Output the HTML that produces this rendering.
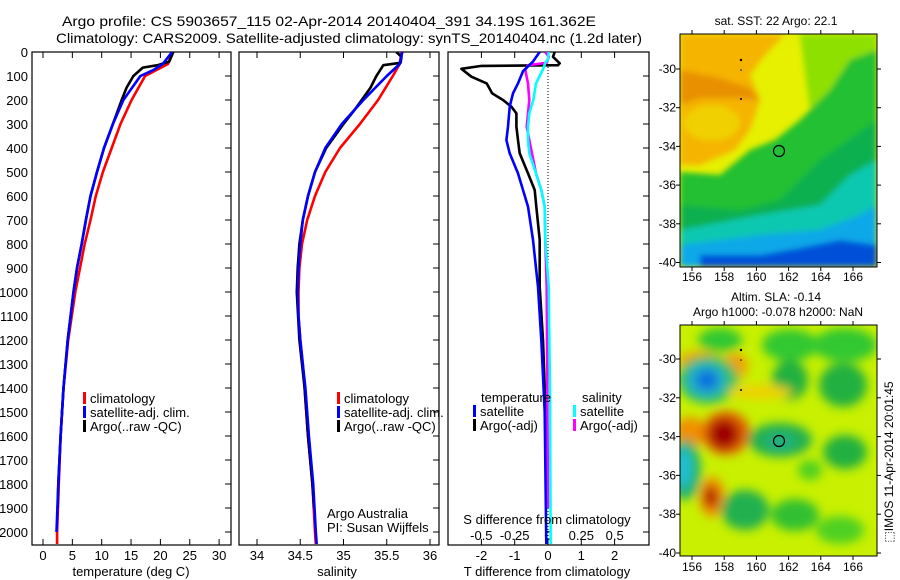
<!DOCTYPE html>
<html><head><meta charset="utf-8"><style>
html,body{margin:0;padding:0;background:#fff;}
svg{display:block;font-family:"Liberation Sans",sans-serif;}
text{fill:#000;}
</style></head><body>
<svg id="fig" width="900" height="580" viewBox="0 0 900 580" xmlns="http://www.w3.org/2000/svg">
<defs>
<filter id="blur6" x="-20%" y="-20%" width="140%" height="140%"><feGaussianBlur stdDeviation="5"/></filter>
<filter id="blur3" x="-20%" y="-20%" width="140%" height="140%"><feGaussianBlur stdDeviation="3"/></filter>
<clipPath id="clipSST"><rect x="680" y="34" width="197" height="233"/></clipPath>
<clipPath id="clipSLA"><rect x="680" y="325" width="197" height="231"/></clipPath>
</defs>
<text x="62" y="26" font-size="14" textLength="534" lengthAdjust="spacingAndGlyphs">Argo profile: CS 5903657_115 02-Apr-2014 20140404_391 34.19S 161.362E</text>
<text x="56" y="43" font-size="14" textLength="586" lengthAdjust="spacingAndGlyphs">Climatology: CARS2009. Satellite-adjusted climatology: synTS_20140404.nc (1.2d later)</text>

<!-- SST map -->
<g clip-path="url(#clipSST)">
<rect x="680" y="34" width="197" height="233" fill="#e6f000"/>
<g filter="url(#blur3)">
<polygon fill="#f5b400" points="680,34 785,34 765,55 750,75 760,100 750,130 735,150 700,165 680,165"/>
<polygon fill="#e89000" points="680,70 720,78 750,88 760,100 735,98 700,98 680,105"/>
<ellipse cx="712" cy="123" rx="28" ry="18" fill="#f0d000"/>
<polygon fill="#8ee000" points="800,34 877,34 877,90 830,110 810,110"/>
<polygon fill="#22c030" points="680,172 720,175 750,150 775,140 800,120 830,90 850,60 877,50 877,267 680,267"/>
<polygon fill="#10b050" points="680,205 740,210 780,200 820,160 877,120 877,267 680,267"/>
<polygon fill="#10c8b0" points="680,230 760,215 820,205 850,175 877,160 877,267 680,267"/>
<polygon fill="#10a8e8" points="680,245 760,235 820,230 860,215 877,205 877,267 680,267"/>
<polygon fill="#0050d8" points="700,255 760,255 800,248 840,240 877,245 877,267 700,267"/>
</g>
<circle cx="779" cy="151" r="5.5" fill="none" stroke="#000" stroke-width="1.2"/>
<circle cx="741" cy="60" r="1.2" fill="#000"/><circle cx="741" cy="70" r="0.8" fill="#000"/><circle cx="741" cy="99" r="1" fill="#000"/>
</g>
<rect x="680" y="34" width="197" height="233" fill="none" stroke="#000"/>
<text x="776" y="25" font-size="12" text-anchor="middle">sat. SST: 22 Argo: 22.1</text>

<!-- SLA map -->
<g clip-path="url(#clipSLA)">
<rect x="680" y="325" width="197" height="231" fill="#c8f000"/>
<g filter="url(#blur6)">
<ellipse cx="720" cy="340" rx="22" ry="12" fill="#30c830"/>
<ellipse cx="790" cy="345" rx="28" ry="16" fill="#30c830"/>
<ellipse cx="845" cy="345" rx="32" ry="17" fill="#30c830"/>
<ellipse cx="790" cy="380" rx="18" ry="20" fill="#20b040"/>
<ellipse cx="843" cy="385" rx="24" ry="22" fill="#20b040"/>
<ellipse cx="700" cy="362" rx="22" ry="11" fill="#f0a000"/>
<ellipse cx="735" cy="366" rx="13" ry="13" fill="#f0a000"/>
<ellipse cx="708" cy="380" rx="30" ry="24" fill="#30c060"/>
<ellipse cx="706" cy="380" rx="20" ry="17" fill="#20b0c8"/>
<ellipse cx="707" cy="380" rx="11" ry="10" fill="#1070e0"/>
<ellipse cx="760" cy="392" rx="32" ry="7" fill="#f0d000"/>
<ellipse cx="690" cy="432" rx="16" ry="15" fill="#f09000"/>
<ellipse cx="726" cy="433" rx="24" ry="22" fill="#e06000"/>
<ellipse cx="724" cy="434" rx="15" ry="15" fill="#a00000"/>
<ellipse cx="780" cy="440" rx="32" ry="17" fill="#20b050"/>
<ellipse cx="780" cy="442" rx="15" ry="9" fill="#20b080"/>
<ellipse cx="845" cy="452" rx="22" ry="17" fill="#20b040"/>
<ellipse cx="685" cy="470" rx="16" ry="30" fill="#20b070"/>
<ellipse cx="683" cy="468" rx="9" ry="20" fill="#20c0d0"/>
<ellipse cx="712" cy="497" rx="13" ry="20" fill="#f09000"/>
<ellipse cx="711" cy="497" rx="7" ry="11" fill="#b01800"/>
<ellipse cx="745" cy="510" rx="24" ry="20" fill="#20b050"/>
<ellipse cx="795" cy="515" rx="24" ry="16" fill="#30c030"/>
<ellipse cx="840" cy="530" rx="24" ry="14" fill="#50d020"/>
<ellipse cx="810" cy="470" rx="12" ry="10" fill="#50d020"/>
</g>
<circle cx="779" cy="441" r="5.5" fill="none" stroke="#000" stroke-width="1.2"/>
<circle cx="741" cy="350" r="1.2" fill="#000"/><circle cx="741" cy="360" r="0.8" fill="#000"/><circle cx="741" cy="390" r="1" fill="#000"/>
</g>
<rect x="680" y="325" width="197" height="231" fill="none" stroke="#000"/>
<text x="776" y="301" font-size="12" text-anchor="middle">Altim. SLA: -0.14</text>
<text x="778" y="316" font-size="12" text-anchor="middle">Argo h1000: -0.078 h2000: NaN</text>
<text transform="translate(893,462) rotate(-90)" font-size="12" text-anchor="middle">⬚IMOS 11-Apr-2014 20:01:45</text>
<g id="axes"></g>
</svg>
<script>
// ---- data ----
const depthRed  = [0,50,100,200,300,400,500,600,700,800,900,1000,1200,1400,1600,1800,2000,2050];
const tempClim  = [22,21.3,17.4,15.1,13.2,11.7,10.2,9.0,8.1,7.1,6.3,5.5,4.3,3.5,3.0,2.7,2.4,2.4];
const depthBlue = [0,50,75,100,200,300,400,500,600,700,800,900,1000,1200,1400,1600,1800,2000];
const tempSat   = [22,20.4,18.8,16.6,13.7,11.9,10.4,9.2,8.1,7.3,6.6,5.8,5.2,4.2,3.5,3.0,2.6,2.3];
const depthArgo = [0,40,55,65,100,150,200,300,400,500,600,700,800,900,1000,1200,1400,1600,1800,1900];
const tempArgo  = [22.2,21.5,19.5,17.0,15.4,14.2,13.4,11.9,10.4,9.2,8.1,7.3,6.6,5.8,5.2,4.2,3.5,3.0,2.6,2.5];

const salDepth  = [0,50,100,200,300,400,500,600,700,800,900,1000,1100,1200,1300,1400,1600,1800,2000,2050];
const salClim   = [35.67,35.65,35.57,35.40,35.19,34.96,34.79,34.67,34.58,34.52,34.49,34.48,34.48,34.50,34.53,34.55,34.59,34.64,34.67,34.68];
const salSat    = [35.68,35.65,35.50,35.23,34.98,34.79,34.67,34.59,34.53,34.50,34.48,34.47,34.48,34.50,34.53,34.56,34.60,34.65,34.68,34.69];
const salDepthArgo = [0,20,45,55,100,150,200,250,300,400,500,600,700,800,900,1000,1200,1400,1600,1800,1900];
const salArgo   = [35.61,35.67,35.66,35.46,35.38,35.31,35.21,35.11,35.00,34.80,34.67,34.59,34.53,34.49,34.47,34.46,34.49,34.55,34.59,34.64,34.66];

const diffDepthArgoT = [0,20,47,55,58,70,103,131,172,200,228,256,311,367,422,506,575,644,783,978,1200,1400,1600,1900];
const tDiffArgo = [0.2,0.15,0.35,0.3,-2.0,-2.6,-2.3,-1.84,-1.68,-1.35,-1.1,-0.95,-0.95,-0.9,-0.85,-0.6,-0.4,-0.35,-0.25,-0.25,-0.15,-0.1,-0.05,-0.03];
const diffDepthSat = [0,20,40,80,131,172,228,311,367,422,506,575,644,783,978,1200,1500,2050];
const tDiffSat  = [-0.25,-0.35,-0.45,-0.75,-0.9,-1.05,-1.15,-1.2,-1.25,-1.15,-0.9,-0.75,-0.6,-0.45,-0.3,-0.2,-0.1,-0.05];
const diffDepthS = [0,30,45,75,131,200,256,311,367,422,506,575,644,783,978,1400,2050];
const sDiffSat  = [0.005,0.0,-0.02,-0.04,-0.09,-0.11,-0.14,-0.15,-0.15,-0.14,-0.09,-0.05,-0.025,-0.02,0.005,0.015,0.02];
const diffDepthSArgo = [0,20,45,55,75,131,200,256,311,367,422,506,575,644,783,978,1400,1900];
const sDiffArgo = [-0.02,0.005,-0.01,-0.15,-0.17,-0.15,-0.14,-0.15,-0.16,-0.14,-0.12,-0.09,-0.05,-0.025,-0.02,-0.01,-0.005,0.0];

const depthTicks = [0,100,200,300,400,500,600,700,800,900,1000,1100,1200,1300,1400,1500,1600,1700,1800,1900,2000];
const tempTicks = [0,5,10,15,20,25,30];
const salTicks = [34,34.5,35,35.5,36];
const salTickLabels = ["34","34.5","35","35.5","36"];
const tDiffTicks = [-2,-1,0,1,2];
const sDiffTicks = [-0.5,-0.25,0,0.25,0.5];
const sDiffTickLabels = ["-0.5","-0.25","0","0.25","0.5"];
const lonTicks = [156,158,160,162,164,166];
const latTicks = [-30,-32,-34,-36,-38,-40];

// ---- scales ----
const yD = d => 52 + d*0.24;
const xT = t => 43 + t*5.87;
const xS = s => 257 + (s-34)*86.5;
const xTd = d => 548 + d*33.3;
const xSd = d => 548 + d*133.3;
const xLon = l => 692 + (l-156)*16.1;
const yLatTop = l => 69 + (-30-l)*19.35;
const yLatBot = l => 359 + (-30-l)*19.4;

const NS = "http://www.w3.org/2000/svg";
const root = document.getElementById('axes');
function mk(tag, attrs, parent){ const e=document.createElementNS(NS,tag); for(const k in attrs) e.setAttribute(k,attrs[k]); (parent||root).appendChild(e); return e; }
function txt(x,y,s,size,anchor){ const t=mk('text',{x:x,y:y,'font-size':size,'text-anchor':anchor||'middle'}); t.textContent=s; return t; }
function stepPath(xs, ds, xf){ let p=''; for(let i=0;i<xs.length;i++){ const x=xf(xs[i]).toFixed(1), y=yD(ds[i]).toFixed(1); p += (i?'L':'M')+x+' '+y; } return p; }

function line(xs, ds, xf, color, name, clipId){
  const e = mk('path',{d:stepPath(xs,ds,xf),fill:'none',stroke:color,'stroke-width':2.6,'stroke-linejoin':'round','clip-path':'url(#'+clipId+')'});
  
  
}

const defs = document.querySelector('defs');
[['cp1',32,231],['cp2',239,439],['cp3',448,649]].forEach(c=>{ const cp=mk('clipPath',{id:c[0]},defs); mk('rect',{x:c[1],y:52,width:c[2]-c[1],height:493},cp); });

function frame(x0,x1,name){
  const r = mk('rect',{x:x0,y:52,width:x1-x0,height:493,fill:'none',stroke:'#000','stroke-width':1.2});
  
  
  depthTicks.forEach(d=>{ mk('line',{x1:x1-6,x2:x1,y1:yD(d),y2:yD(d),stroke:'#000'}); });
}
function xticks(ticks, labels, xf, ly, size){
  ticks.forEach((t,i)=>{
    const x=xf(t);
    mk('line',{x1:x,x2:x,y1:52,y2:58,stroke:'#000'});
    mk('line',{x1:x,x2:x,y1:545,y2:539,stroke:'#000'});
    const l = txt(x, ly, labels[i], size||13);
    
    
  });
}

// Panel 1
frame(32,231,'temperature-panel');
depthTicks.forEach(d=>{
  const l = txt(28, yD(d)+5, String(d), 13, 'end');
  
  
});
xticks(tempTicks, tempTicks.map(String), xT, 560);
line(tempClim, depthRed, xT, '#ff0000', 'temp-climatology-line', 'cp1');
line(tempArgo, depthArgo, xT, '#000000', 'temp-argo-line', 'cp1');
line(tempSat, depthBlue, xT, '#0000ff', 'temp-satellite-line', 'cp1');
let t1 = txt(131, 576, 'temperature (deg C)', 13);  

// Panel 2
frame(239,439,'salinity-panel');
xticks(salTicks, salTickLabels, xS, 560);
line(salClim, salDepth, xS, '#ff0000', 'sal-climatology-line', 'cp2');
line(salArgo, salDepthArgo, xS, '#000000', 'sal-argo-line', 'cp2');
line(salSat, salDepth, xS, '#0000ff', 'sal-satellite-line', 'cp2');
let t2 = txt(337, 576, 'salinity', 13);  

// Panel 3
frame(448,649,'difference-panel');
mk('line',{x1:548,x2:548,y1:52,y2:545,stroke:'#000','stroke-dasharray':'1 2'});
xticks(tDiffTicks, tDiffTicks.map(String), xTd, 560);
sDiffTicks.forEach((t,i)=>{ const l=txt(xSd(t), 540, sDiffTickLabels[i], 13);   });
line(tDiffArgo, diffDepthArgoT, xTd, '#000000', 'tdiff-argo-line', 'cp3');
line(sDiffArgo, diffDepthSArgo, xSd, '#ff00ff', 'sdiff-argo-line', 'cp3');
line(tDiffSat, diffDepthSat, xTd, '#0000ff', 'tdiff-satellite-line', 'cp3');
line(sDiffSat, diffDepthS, xSd, '#00ffff', 'sdiff-satellite-line', 'cp3');
let t3 = txt(547, 576, 'T difference from climatology', 13);  
let t4 = txt(547, 524, 'S difference from climatology', 13);  

// Legends
function legend(x, y, color, label, name){
  const g = mk('g',{});
  
  
  mk('rect',{x:x,y:y-11,width:3,height:12,fill:color},g);
  const t = mk('text',{x:x+7,y:y,'font-size':13},g); t.textContent=label;
}
legend(83,403,'#ff0000','climatology','legend-temp-climatology');
legend(83,417,'#0000ff','satellite-adj. clim.','legend-temp-satellite');
legend(83,431,'#000000','Argo(..raw -QC)','legend-temp-argo');
legend(337,403,'#ff0000','climatology','legend-sal-climatology');
legend(337,417,'#0000ff','satellite-adj. clim.','legend-sal-satellite');
legend(337,431,'#000000','Argo(..raw -QC)','legend-sal-argo');
let lh1 = txt(481,402,'temperature',13,'start');  
let lh2 = txt(582,402,'salinity',13,'start');  
legend(473,416,'#0000ff','satellite','legend-tdiff-satellite');
legend(473,430,'#000000','Argo(-adj)','legend-tdiff-argo');
legend(573,416,'#00ffff','satellite','legend-sdiff-satellite');
legend(573,430,'#ff00ff','Argo(-adj)','legend-sdiff-argo');
let c1 = txt(327,518,'Argo Australia',13,'start');  
let c2 = txt(327,532,'PI: Susan Wijffels',13,'start');  

// Map axes
function mapAxes(y0, y1, yf, lonY){
  lonTicks.forEach(l=>{
    const x=xLon(l);
    mk('line',{x1:x,x2:x,y1:y0,y2:y0-4,stroke:'#000'});
    mk('line',{x1:x,x2:x,y1:y1,y2:y1+4,stroke:'#000'});
    const t=txt(x, lonY, String(l), 12);  
  });
  latTicks.forEach(l=>{
    const y=yf(l);
    mk('line',{x1:680,x2:676,y1:y,y2:y,stroke:'#000'});
    mk('line',{x1:877,x2:881,y1:y,y2:y,stroke:'#000'});
    const t=txt(676, y+4, String(l), 12, 'end');  
  });
}
mapAxes(34, 267, yLatTop, 281);
mapAxes(325, 556, yLatBot, 571);
</script>
</body></html>
